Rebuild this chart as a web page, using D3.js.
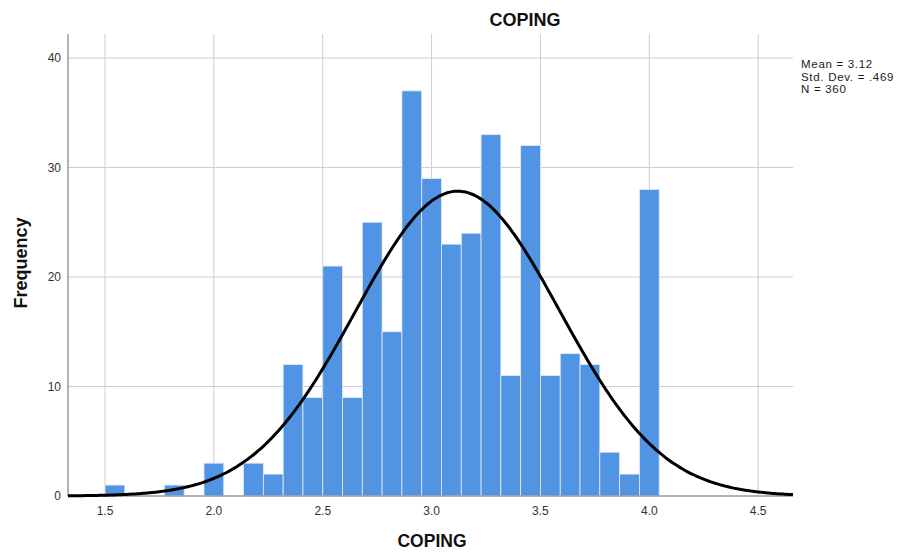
<!DOCTYPE html>
<html lang="en">
<head>
<meta charset="UTF-8">
<title>COPING</title>
<script src="https://cdn.jsdelivr.net/npm/d3@7"></script>
<style>
  body { margin: 0; background: #fff; }
  svg { display: block; font-family: "Liberation Sans", Arial, sans-serif; }
</style>
</head>
<body>
<svg id="chart" width="900" height="552"></svg>
<script>
// histogram bins: first edge and width, counts per bin
const binStart = 1.5;
const binWidth = 1 / 11;
const counts = [1, 0, 0, 1, 0, 3, 0, 3, 2, 12, 9, 21, 9, 25, 15, 37, 29, 23, 24, 33, 11, 32, 11, 13, 12, 4, 2, 28];

const xTicks = [1.5, 2.0, 2.5, 3.0, 3.5, 4.0, 4.5];
const yTicks = [0, 10, 20, 30, 40];

const mean = 3.12, sd = 0.469, n = 360;
const statLines = ["Mean = 3.12", "Std. Dev. = .469", "N = 360"];

const svg = d3.select("#chart");
const plotL = 68, plotR = 793, plotT = 34, plotB = 496;

const x = d3.scaleLinear().domain([1.33, 4.66]).range([plotL, plotR]);
const y = d3.scaleLinear().domain([0, 40]).range([plotB, 58]);

// grid
svg.append("g").selectAll("line").data(xTicks).join("line")
  .attr("x1", d => x(d)).attr("x2", d => x(d))
  .attr("y1", plotT).attr("y2", plotB)
  .attr("stroke", "#cccccc").attr("stroke-width", 1);
svg.append("g").selectAll("line").data(yTicks.filter(d => d > 0)).join("line")
  .attr("x1", plotL).attr("x2", plotR)
  .attr("y1", d => y(d)).attr("y2", d => y(d))
  .attr("stroke", "#cccccc").attr("stroke-width", 1);

// bars
const bins = counts.map((c, i) => ({ x0: binStart + i * binWidth, x1: binStart + (i + 1) * binWidth, c }));
svg.append("g").selectAll("rect").data(bins.filter(b => b.c > 0)).join("rect")
  .attr("x", d => x(d.x0))
  .attr("y", d => y(d.c))
  .attr("width", d => x(d.x1) - x(d.x0))
  .attr("height", d => plotB - y(d.c))
  .attr("fill", "#5294e4")
  .attr("stroke", "#e3ecf8")
  .attr("stroke-width", 0.8);

// axis lines
svg.append("line").attr("x1", plotL).attr("x2", plotL).attr("y1", plotT).attr("y2", plotB)
  .attr("stroke", "#9a9a9a").attr("stroke-width", 1.5);
svg.append("line").attr("x1", plotL).attr("x2", plotR).attr("y1", plotB).attr("y2", plotB)
  .attr("stroke", "#9a9a9a").attr("stroke-width", 1.5);

// normal curve
const pts = d3.range(0, 301).map(i => {
  const v = 1.33 + i * (4.66 - 1.33) / 300;
  const f = n * binWidth / (sd * Math.sqrt(2 * Math.PI)) * Math.exp(-0.5 * ((v - mean) / sd) ** 2);
  return [v, f];
});
svg.append("path").datum(pts)
  .attr("d", d3.line().x(d => x(d[0])).y(d => y(d[1])).curve(d3.curveBasis))
  .attr("fill", "none").attr("stroke", "#000").attr("stroke-width", 3);

// tick labels
svg.append("g").selectAll("text").data(xTicks).join("text")
  .attr("x", d => x(d)).attr("y", 515)
  .attr("text-anchor", "middle").attr("font-size", 12).attr("fill", "#333")
  .text(d => d.toFixed(1));
svg.append("g").selectAll("text").data(yTicks).join("text")
  .attr("x", 61).attr("y", d => y(d) + 4)
  .attr("text-anchor", "end").attr("font-size", 12).attr("fill", "#333")
  .text(d => d);

// titles
svg.append("text").attr("x", 525).attr("y", 26).attr("text-anchor", "middle")
  .attr("font-size", 18).attr("font-weight", "bold").attr("fill", "#111").text("COPING");
svg.append("text").attr("x", 432).attr("y", 547).attr("text-anchor", "middle")
  .attr("font-size", 17.5).attr("font-weight", "bold").attr("fill", "#111").text("COPING");
svg.append("text").attr("transform", "translate(27,263) rotate(-90)").attr("text-anchor", "middle")
  .attr("font-size", 18).attr("font-weight", "bold").attr("fill", "#111").text("Frequency");

// stats
svg.append("g").selectAll("text").data(statLines).join("text")
  .attr("x", 801).attr("y", (d, i) => 68 + i * 12.5)
  .attr("font-size", 11.5).attr("letter-spacing", 0.7).attr("fill", "#222")
  .text(d => d);
</script>
</body>
</html>
